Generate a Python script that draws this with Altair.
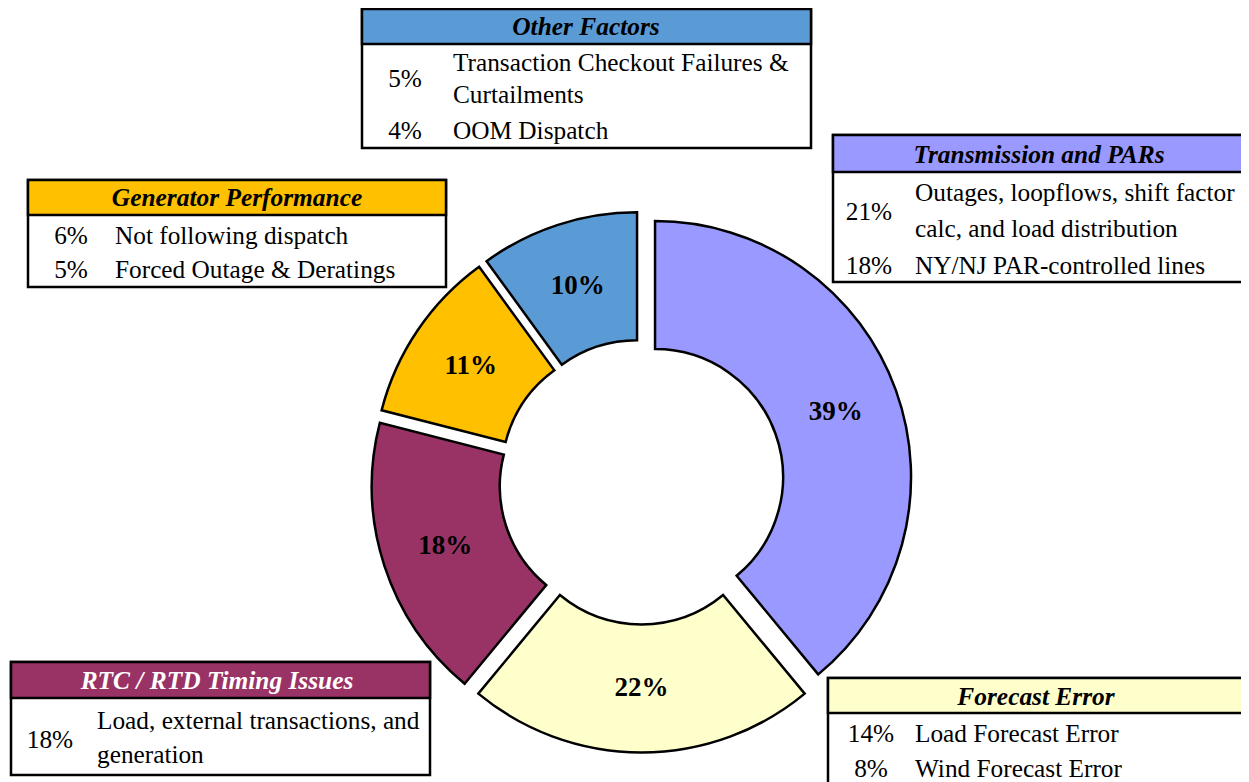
import math
import altair as alt
import pandas as pd

# ---------------- data ----------------
categories = ["Transmission and PARs", "Forecast Error", "RTC / RTD Timing Issues",
              "Generator Performance", "Other Factors"]
shares = [39, 22, 18, 11, 10]
slice_colors = ["#9999FF", "#FFFFCC", "#993366", "#FFC000", "#5B9BD5"]
header_text_colors = ["black", "black", "white", "black", "black"]

item_category = ["Other Factors", "Other Factors",
                 "Generator Performance", "Generator Performance",
                 "Transmission and PARs", "Transmission and PARs",
                 "RTC / RTD Timing Issues",
                 "Forecast Error", "Forecast Error"]
item_share = [5, 4, 6, 5, 21, 18, 18, 14, 8]
item_lines = [["Transaction Checkout Failures &", "Curtailments"],
              ["OOM Dispatch"],
              ["Not following dispatch"],
              ["Forced Outage & Deratings"],
              ["Outages, loopflows, shift factor", "calc, and load distribution"],
              ["NY/NJ PAR-controlled lines"],
              ["Load, external transactions, and", "generation"],
              ["Load Forecast Error"],
              ["Wind Forecast Error"]]

# ---------------- layout (page pixels) ----------------
M = 8  # page margin
donut = dict(cx=641.5, cy=482.0, R=256, r=128, explode=14.4)
boxes = {
    "Other Factors":           dict(left=362, top=9,   right=811,  bottom=148, head=44,  hx=586,  hy=27,  px=405, tx=453),
    "Generator Performance":   dict(left=28,  top=180, right=446,  bottom=287, head=215, hx=237,  hy=198, px=71,  tx=115),
    "Transmission and PARs":   dict(left=833, top=135, right=1256, bottom=282, head=172, hx=1039, hy=155, px=869, tx=915),
    "RTC / RTD Timing Issues": dict(left=11,  top=662, right=430,  bottom=775, head=698, hx=217,  hy=681, px=50,  tx=97),
    "Forecast Error":          dict(left=828, top=678, right=1256, bottom=800, head=713, hx=1036, hy=697, px=871, tx=915),
}
item_rows = [(79, [63, 95]), (131, [131]), (236, [236]), (270, [270]),
             (212, [193, 229]), (266, [266]), (740, [721, 755]), (734, [734]), (769, [769])]

SERIF = "Liberation Serif"
BODY = 25.3
HEAD = 25.4
LABEL = 27

# ---------------- donut table ----------------
rows = []
cum = 0
for cat, s, col in zip(categories, shares, slice_colors):
    start = cum / 100 * 2 * math.pi
    cum += s
    end = cum / 100 * 2 * math.pi
    mid = (start + end) / 2
    ccx = donut["cx"] - M + donut["explode"] * math.sin(mid)
    ccy = donut["cy"] - M - donut["explode"] * math.cos(mid)
    lr = (donut["R"] + donut["r"]) / 2
    rows.append(dict(category=cat, share=s, color=col, start=start, end=end,
                     cx=ccx, cy=ccy,
                     lx=ccx + lr * math.sin(mid), ly=ccy - lr * math.cos(mid),
                     label=f"{s}%"))
arc_df = pd.DataFrame(rows)

# ---------------- box tables ----------------
box_rows, head_rows = [], []
for cat, hc, col in zip(categories, header_text_colors, slice_colors):
    b = boxes[cat]
    box_rows.append(dict(x=b["left"] - M, x2=b["right"] - M, y=b["top"] - M, y2=b["bottom"] - M,
                         fill="white"))
    box_rows.append(dict(x=b["left"] - M, x2=b["right"] - M, y=b["top"] - M, y2=b["head"] - M,
                         fill=col))
    head_rows.append(dict(x=b["hx"] - M, y=b["hy"] - M, text=cat, color=hc))
box_df = pd.DataFrame(box_rows)
head_df = pd.DataFrame(head_rows)

pct_rows, line_rows = [], []
for cat, s, lines, (py, lys) in zip(item_category, item_share, item_lines, item_rows):
    b = boxes[cat]
    pct_rows.append(dict(x=b["px"] - M, y=py - M, text=f"{s}%"))
    for ln, ly in zip(lines, lys):
        line_rows.append(dict(x=b["tx"] - M, y=ly - M, text=ln))
pct_df = pd.DataFrame(pct_rows)
line_df = pd.DataFrame(line_rows)


def X(f):
    return alt.X(f"{f}:Q", scale=None, axis=None)


def Y(f):
    return alt.Y(f"{f}:Q", scale=None, axis=None)


arcs = alt.Chart(arc_df).mark_arc(radius=donut["R"], radius2=donut["r"], stroke="black",
                                  strokeWidth=2.5, strokeJoin="miter").encode(
    x=X("cx"), y=Y("cy"),
    theta=alt.Theta("start:Q", scale=None), theta2="end:Q",
    fill=alt.Fill("color:N", scale=None),
)
arc_labels = alt.Chart(arc_df).mark_text(font=SERIF, fontSize=LABEL, fontWeight="bold",
                                         baseline="middle", align="center", color="black").encode(
    x=X("lx"), y=Y("ly"), text="label:N")

rects = alt.Chart(box_df).mark_rect(stroke="black", strokeWidth=2.5).encode(
    x=X("x"), x2="x2", y=Y("y"), y2="y2", fill=alt.Fill("fill:N", scale=None))
heads = alt.Chart(head_df).mark_text(font=SERIF, fontSize=HEAD, fontWeight="bold", fontStyle="italic",
                                     baseline="middle", align="center").encode(
    x=X("x"), y=Y("y"), text="text:N", color=alt.Color("color:N", scale=None))
pcts = alt.Chart(pct_df).mark_text(font=SERIF, fontSize=BODY, baseline="middle", align="center",
                                   color="black").encode(x=X("x"), y=Y("y"), text="text:N")
lines_layer = alt.Chart(line_df).mark_text(font=SERIF, fontSize=BODY, baseline="middle", align="left",
                                           color="black").encode(x=X("x"), y=Y("y"), text="text:N")

chart = alt.layer(arcs, arc_labels, rects, heads, pcts, lines_layer).properties(
    width=1233, height=774, padding=0,
    autosize=alt.AutoSizeParams(type="none"),
).configure(background="white", view=alt.ViewConfig(stroke=None))

chart.save("out.html", embed_options={"renderer": "svg", "actions": False})
